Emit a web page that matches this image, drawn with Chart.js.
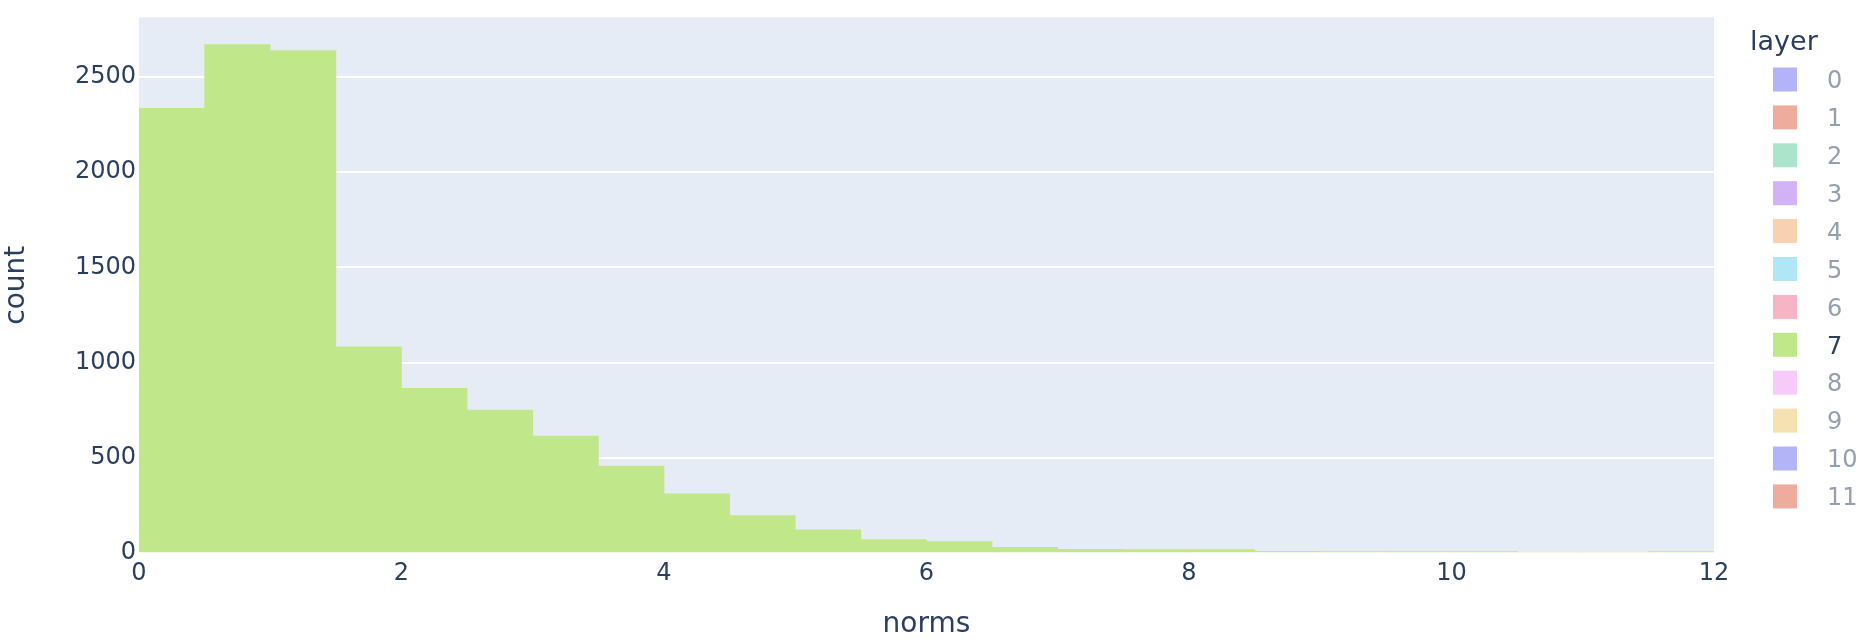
<!DOCTYPE html>
<html>
<head>
<meta charset="utf-8">
<script src="https://cdn.jsdelivr.net/npm/chart.js@4.4.1/dist/chart.umd.min.js"></script>
<style>
  html, body { margin: 0; padding: 0; background: #fff; }
  #wrap { width: 1862px; height: 642px; position: relative; }
</style>
</head>
<body>
<div id="wrap"><canvas id="hist"></canvas></div>
<script>
// ── Data ─────────────────────────────────────────────────────────────────────

// histogram bins of width 0.5 (left edges), layer 7 only
const binStarts = [0, 0.5, 1, 1.5, 2, 2.5, 3, 3.5, 4, 4.5, 5, 5.5,
                   6, 6.5, 7, 7.5, 8, 8.5, 9, 9.5, 10, 10.5, 11, 11.5];
const counts = [2334, 2669, 2638, 1083, 864, 750, 614, 457, 310, 196, 122, 70,
                60, 30, 19, 18, 18, 9, 8, 8, 8, 0, 0, 8];
const binWidth = 0.5;

const layers = ['0', '1', '2', '3', '4', '5', '6', '7', '8', '9', '10', '11'];
const shownLayer = '7';

const xTicks = [0, 2, 4, 6, 8, 10, 12];
const yTicks = [0, 500, 1000, 1500, 2000, 2500];
const yMax = 2812;

// ── Styles ───────────────────────────────────────────────────────────────────

const layerColors = ['#b2b4f7', '#eeac9d', '#abe4cb', '#d2b3f7', '#f8d1b0', '#b0e6f5',
                     '#f6b4c5', '#c1e78b', '#f6cbf9', '#f6e2b0', '#b2b4f7', '#eeac9d'];
const INK = '#2a3f5f';
const INK_DIM = '#949faf';
const FONT = '"DejaVu Sans", Verdana, sans-serif';

// ── Plugins ──────────────────────────────────────────────────────────────────

const plotBg = {
  id: 'plotBg',
  beforeDraw(chart) {
    const { ctx, chartArea: a } = chart;
    ctx.save();
    ctx.fillStyle = '#e5ecf6';
    ctx.fillRect(a.left, a.top, a.right - a.left, a.bottom - a.top);
    ctx.restore();
  },
};

const layerLegend = {
  id: 'layerLegend',
  afterDraw(chart) {
    const ctx = chart.ctx;
    ctx.save();
    ctx.fillStyle = INK;
    ctx.font = '27px ' + FONT;
    ctx.textBaseline = 'alphabetic';
    ctx.textAlign = 'left';
    ctx.fillText('layer', 1750, 50);
    ctx.font = '24px ' + FONT;
    layers.forEach((name, i) => {
      const cy = 79.5 + i * 37.9;
      ctx.fillStyle = layerColors[i];
      ctx.fillRect(1773, cy - 12, 24, 24);
      ctx.fillStyle = name === shownLayer ? INK : INK_DIM;
      ctx.fillText(name, 1827, cy + 8.7);
    });
    ctx.restore();
  },
};

// ── Chart ────────────────────────────────────────────────────────────────────

const shownIdx = layers.indexOf(shownLayer);

new Chart(document.getElementById('hist'), {
  type: 'bar',
  data: {
    datasets: [{
      label: shownLayer,
      data: binStarts.map((b, i) => ({ x: b + binWidth / 2, y: counts[i] })),
      backgroundColor: layerColors[shownIdx],
      borderWidth: 0,
      barPercentage: 1,
      categoryPercentage: 1,
    }],
  },
  options: {
    responsive: true,
    maintainAspectRatio: false,
    animation: false,
    layout: { padding: { top: 14, right: 148, bottom: 0, left: 0 } },
    plugins: { legend: { display: false }, tooltip: { enabled: false } },
    scales: {
      x: {
        type: 'linear',
        min: 0,
        max: 12,
        offset: false,
        afterFit: s => { s.height = 89; },
        afterBuildTicks: s => { s.ticks = xTicks.map(v => ({ value: v })); },
        grid: { display: false, drawTicks: false },
        border: { display: false },
        ticks: { color: INK, font: { family: FONT, size: 24 }, padding: 6, maxRotation: 0, callback: v => String(v) },
        title: { display: true, text: 'norms', color: INK, font: { family: FONT, size: 28 }, padding: { top: 0, bottom: 0 } },
      },
      y: {
        min: 0,
        max: yMax,
        afterFit: s => { s.width = 139; },
        afterBuildTicks: s => { s.ticks = yTicks.map(v => ({ value: v })); },
        grid: { color: '#ffffff', lineWidth: 2, drawTicks: false },
        border: { display: false },
        ticks: { color: INK, font: { family: FONT, size: 24 }, padding: 3, callback: v => String(v) },
        title: { display: true, text: 'count', color: INK, font: { family: FONT, size: 28 }, padding: { top: 0, bottom: 0 } },
      },
    },
  },
  plugins: [plotBg, layerLegend],
});
</script>
</body>
</html>
